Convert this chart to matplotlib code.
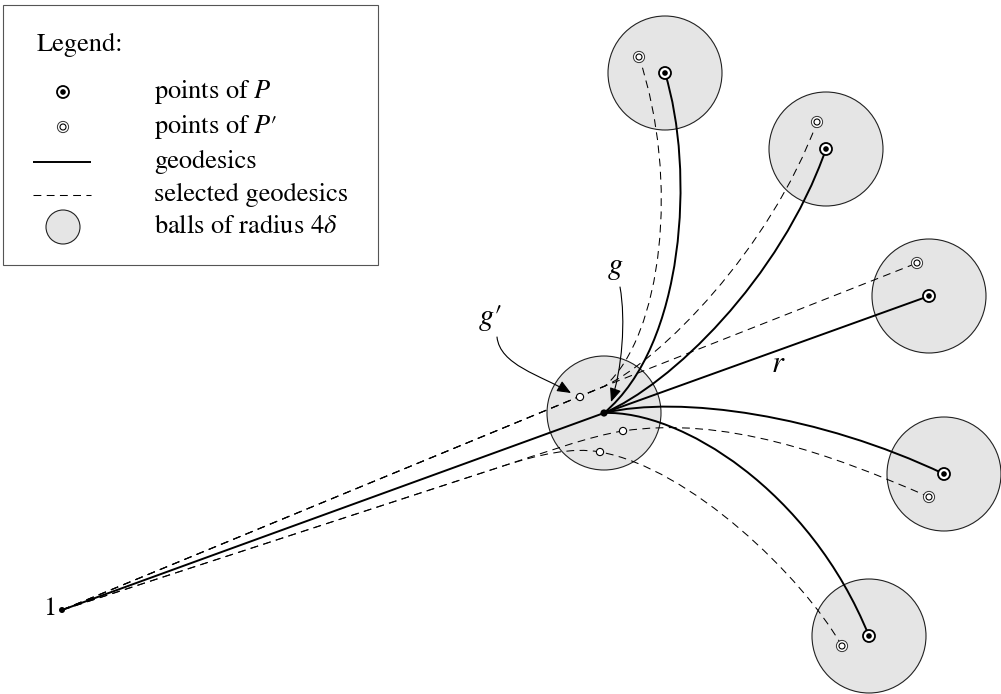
import matplotlib.pyplot as plt
from matplotlib.patches import Circle, PathPatch, FancyArrowPatch, Rectangle
from matplotlib.path import Path

plt.rcParams['font.family'] = ['STIXGeneral', 'DejaVu Serif']
plt.rcParams['mathtext.fontset'] = 'stix'

# Схема в піксельних координатах (вісь y вниз)
origin = (62, 610)
hub = (604, 413)
hub_radius = 57
ball_radius = 57

# Точки P (центри куль) та P'
p_points = [(665, 73), (826, 149), (929, 296), (944, 474), (869, 636)]
p_prime = [(639, 57), (817, 122), (917, 263), (929, 497), (842, 646)]

# Порожні точки в центральній кулі
hollow = [(580, 397), (623, 431), (600, 452)]

# Контрольні точки геодезичних від hub до P (None - пряма)
solid_ctrl = [((685, 345), (695, 170)),
              ((670, 385), (780, 280)),
              None,
              ((680, 395), (820, 415)),
              ((680, 410), (810, 490))]

# Вибрані геодезичні: верхній пучок через join, нижній через split
join = (605, 386)
upper_ctrl = [((662, 335), (680, 180)),
              ((660, 360), (770, 250)),
              None]
split = (500, 467)
lower_mid = [((540, 454), (590, 436), (623, 431)),
             ((540, 454), (572, 447), (600, 452))]
lower_end = [((723, 416), (829, 453)),
             ((690, 468), (802, 576))]

M, L, C = Path.MOVETO, Path.LINETO, Path.CURVE4

fig = plt.figure(figsize=(10.01, 6.94), dpi=100)
ax = fig.add_axes([0, 0, 1, 1])
ax.set_xlim(0, 1001)
ax.set_ylim(694, 0)
ax.axis('off')

ball_fc = '#e5e5e5'
ball_ec = '#222222'
solid_kw = dict(fc='none', ec='black', lw=1.4, zorder=3)
dash_kw = dict(fc='none', ec='black', lw=0.75, ls=(0, (7.5, 5.2)), zorder=2)


def mark_p(x, y, z=5):
    ax.add_patch(Circle((x, y), 6, fc='white', ec='black', lw=1.3, zorder=z))
    ax.add_patch(Circle((x, y), 2.8, fc='black', ec='none', zorder=z + 1))


def mark_pp(x, y, z=5):
    ax.add_patch(Circle((x, y), 5.6, fc='white', ec='#333333', lw=0.7, zorder=z))
    ax.add_patch(Circle((x, y), 3, fc='white', ec='black', lw=0.8, zorder=z + 1))


# кулі
ax.add_patch(Circle(hub, hub_radius, fc=ball_fc, ec=ball_ec, lw=0.8, zorder=1))
for p in p_points:
    ax.add_patch(Circle(p, ball_radius, fc=ball_fc, ec=ball_ec, lw=0.8, zorder=1))

# геодезичні
ax.add_patch(PathPatch(Path([origin, hub], [M, L]), **solid_kw))
for p, c in zip(p_points, solid_ctrl):
    if c is None:
        path = Path([hub, p], [M, L])
    else:
        path = Path([hub, c[0], c[1], p], [M, C, C, C])
    ax.add_patch(PathPatch(path, **solid_kw))

# вибрані геодезичні
for p, c in zip(p_prime[:3], upper_ctrl):
    if c is None:
        path = Path([origin, join, p], [M, L, L])
    else:
        path = Path([origin, join, c[0], c[1], p], [M, L, C, C, C])
    ax.add_patch(PathPatch(path, **dash_kw))
for p, mid, end in zip(p_prime[3:], lower_mid, lower_end):
    verts = [origin, split, mid[0], mid[1], mid[2], end[0], end[1], p]
    ax.add_patch(PathPatch(Path(verts, [M, L, C, C, C, C, C, C]), **dash_kw))

# точки
for p in p_points:
    mark_p(*p)
for p in p_prime:
    mark_pp(*p)
for h in hollow:
    ax.add_patch(Circle(h, 3.6, fc='white', ec='black', lw=0.8, zorder=5))
ax.add_patch(Circle(hub, 3.6, fc='black', ec='none', zorder=6))
ax.add_patch(Circle(origin, 3.0, fc='black', ec='none', zorder=6))

# стрілки g та g'
arrow_kw = dict(arrowstyle='-|>,head_length=0.6,head_width=0.25', mutation_scale=14,
                lw=0.8, color='black', shrinkA=0, shrinkB=0, zorder=7)
ax.add_patch(FancyArrowPatch(path=Path([(497, 337), (500, 365), (540, 375), (571, 393)],
                                       [M, C, C, C]), **arrow_kw))
ax.add_patch(FancyArrowPatch(path=Path([(620, 287), (626, 320), (622, 370), (611, 402)],
                                       [M, C, C, C]), **arrow_kw))

fs = 19
ax.text(490, 318, "$g$\u2032", fontsize=fs + 3, ha='center', va='center')
ax.text(615, 268, "$g$", fontsize=fs + 3, ha='center', va='center')
ax.text(778, 365, "$r$", fontsize=fs + 3, ha='center', va='center')
ax.text(56, 609, "1", fontsize=fs, ha='right', va='center')

# легенда
ax.add_patch(Rectangle((3, 5), 375, 260, fc='white', ec='#555555', lw=0.8, zorder=8))
ax.text(37, 51, "Legend:", fontsize=fs, va='baseline', zorder=9)
labels = ["points of $P$", "points of $P$\u2032", "geodesics", "selected geodesics",
          r"balls of radius $4\delta$"]
rows = [92, 127, 162, 195, 227]
for lab, y in zip(labels, rows):
    ax.text(154, y + 6, lab, fontsize=fs, va='baseline', zorder=9)
mark_p(63, rows[0], z=9)
mark_pp(63, rows[1], z=9)
ax.add_patch(PathPatch(Path([(33, rows[2]), (91, rows[2])], [M, L]),
                       fc='none', ec='black', lw=1.4, zorder=9))
ax.add_patch(PathPatch(Path([(33, rows[3]), (91, rows[3])], [M, L]),
                       fc='none', ec='black', lw=0.75, ls=(0, (7.5, 5.2)), zorder=9))
ax.add_patch(Circle((63, rows[4]), 17, fc=ball_fc, ec=ball_ec, lw=0.8, zorder=9))

fig.savefig('out.png', dpi=100)
